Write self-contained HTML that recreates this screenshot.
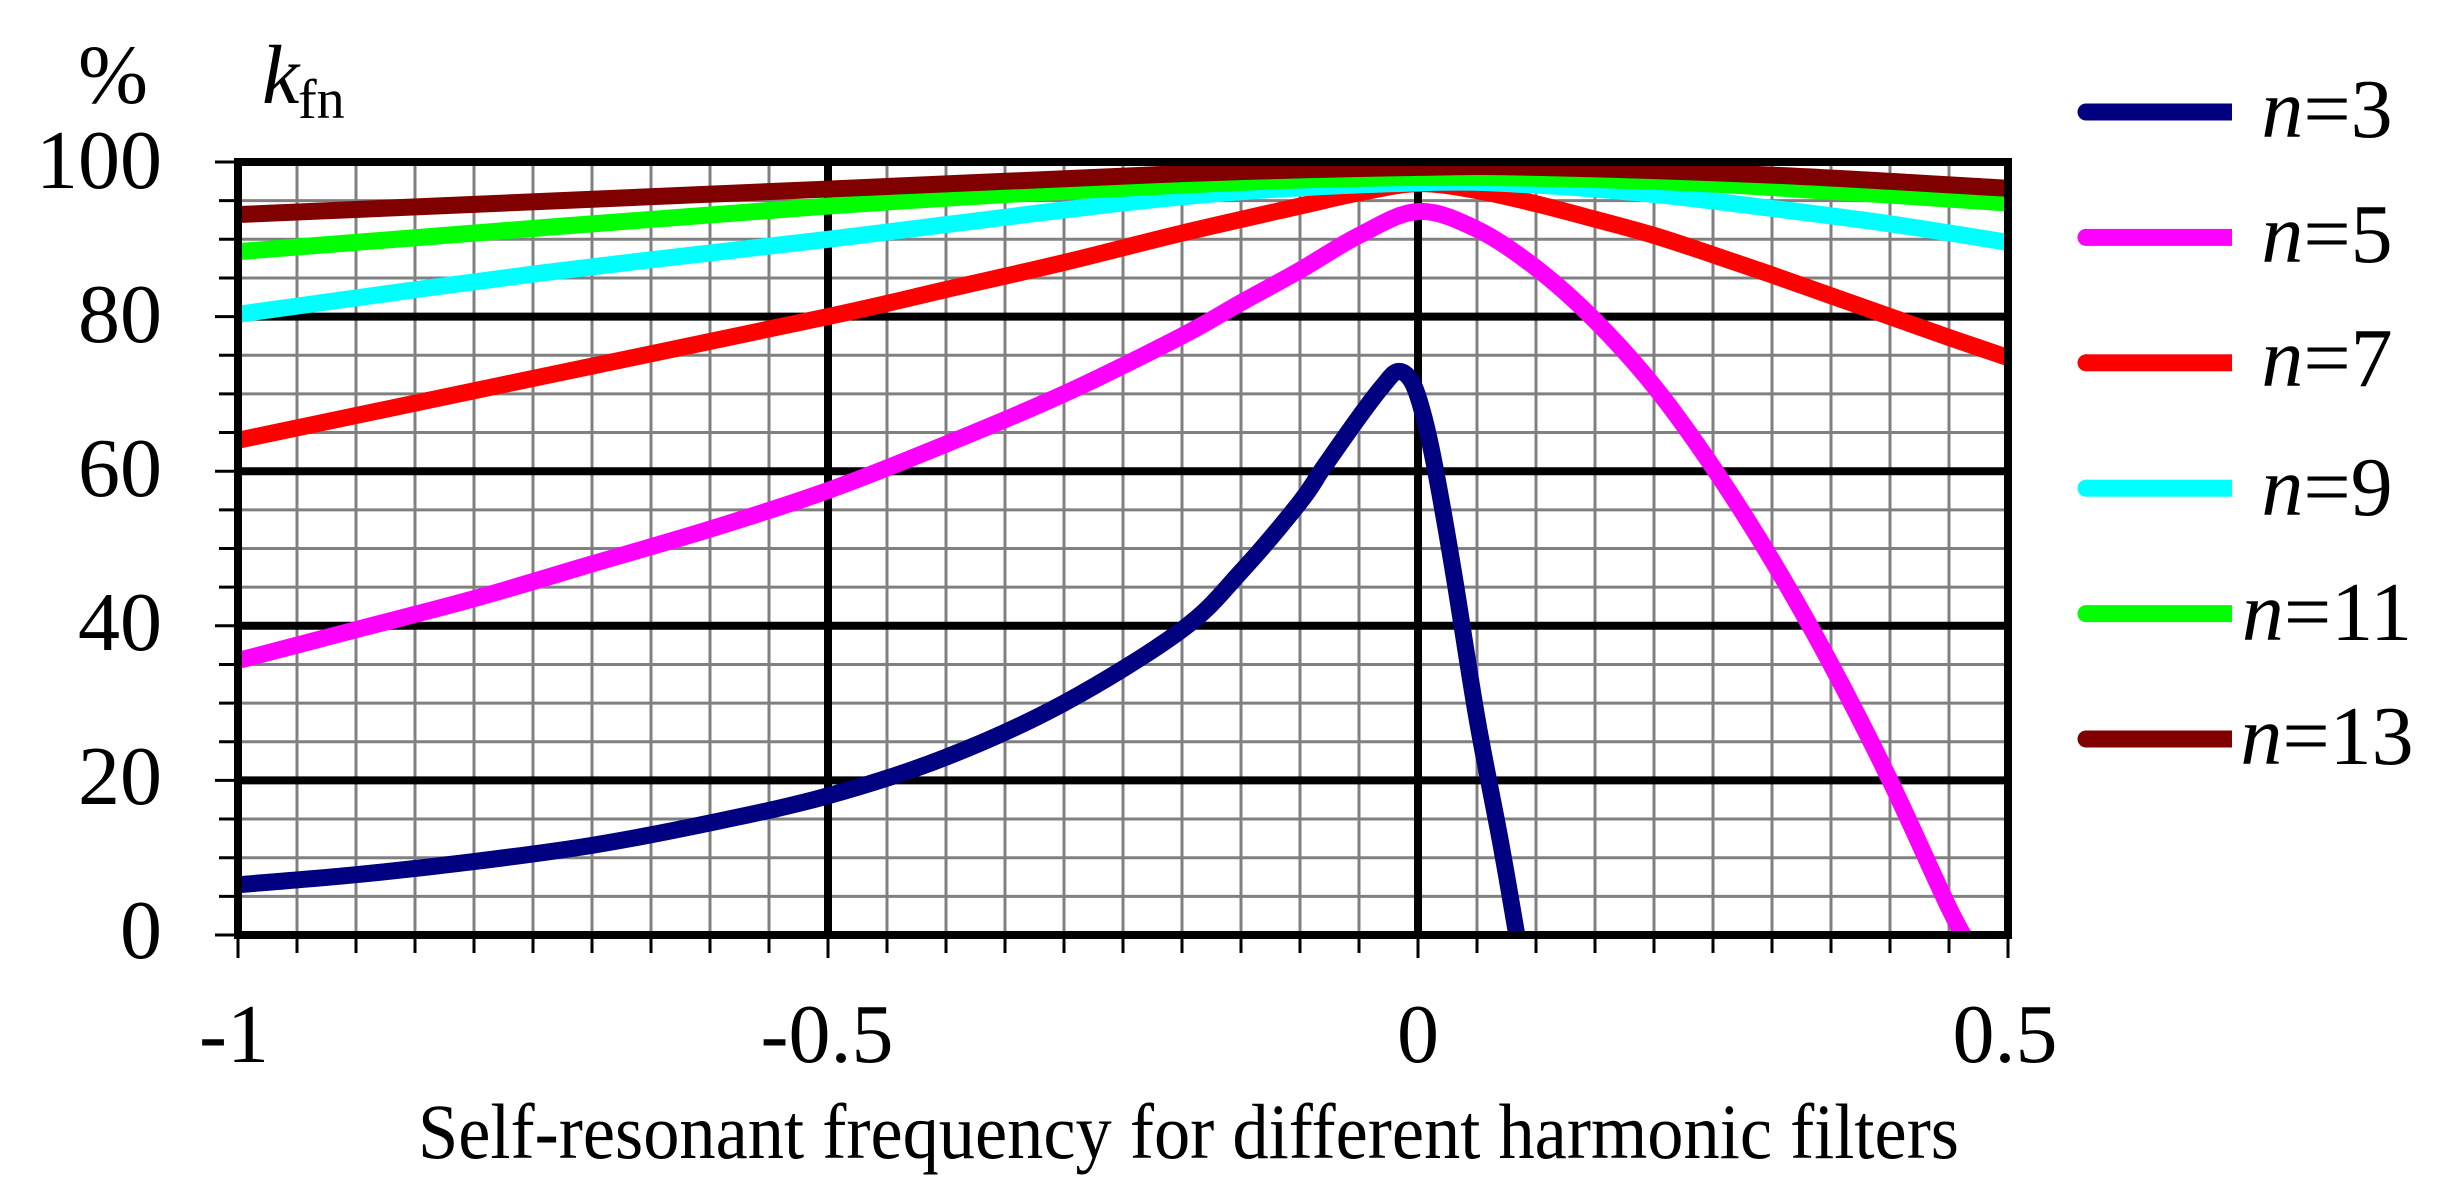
<!DOCTYPE html>
<html><head><meta charset="utf-8"><style>
html,body{margin:0;padding:0;background:#fff;}
svg{display:block;}
text{font-family:"Liberation Serif",serif;fill:#000;}
</style></head><body>
<svg id="s" width="2447" height="1204" viewBox="0 0 2447 1204" xmlns="http://www.w3.org/2000/svg">
<defs><clipPath id="c"><rect x="238" y="160" width="1770" height="776"/></clipPath></defs>
<g id="grid"></g>
<g id="curves" clip-path="url(#c)" fill="none" stroke-width="17" stroke-linejoin="round" stroke-linecap="butt"></g>
<rect x="238" y="162" width="1770" height="773" fill="none" stroke="#000" stroke-width="8"/>
<g font-size="84" text-anchor="end">
<text x="162" y="188">100</text>
<text x="162" y="342">80</text>
<text x="162" y="496">60</text>
<text x="162" y="650">40</text>
<text x="162" y="804">20</text>
<text x="162" y="958">0</text>
</g>
<g font-size="84" text-anchor="middle">
<text x="234" y="1062">-1</text>
<text x="827" y="1062">-0.5</text>
<text x="1418" y="1062">0</text>
<text x="2005" y="1062">0.5</text>
</g>
<text x="78" y="103" font-size="84">%</text>
<text x="262" y="103" font-size="84" font-style="italic">k</text>
<text x="298" y="118" font-size="56">fn</text>
<text x="418" y="1158" font-size="78" textLength="1541" lengthAdjust="spacingAndGlyphs">Self-resonant frequency for different harmonic filters</text>
<g id="legend"></g>
<g font-size="84" text-anchor="middle">
<text x="2327" y="137"><tspan font-style="italic">n</tspan>=3</text>
<text x="2327" y="262"><tspan font-style="italic">n</tspan>=5</text>
<text x="2327" y="386"><tspan font-style="italic">n</tspan>=7</text>
<text x="2327" y="515"><tspan font-style="italic">n</tspan>=9</text>
<text x="2327" y="640"><tspan font-style="italic">n</tspan>=11</text>
<text x="2327" y="764"><tspan font-style="italic">n</tspan>=13</text>
</g>
</svg>
<script>
var NS="http://www.w3.org/2000/svg";
function X(v){return 238+(v+1)*1180;}
function Y(v){return 935-v*7.73;}
function el(p,t,a){var e=document.createElementNS(NS,t);for(var k in a)e.setAttribute(k,a[k]);p.appendChild(e);return e;}
var g=document.getElementById('grid');
for(var i=1;i<30;i++){var v=-1+i*0.05;if(i==10||i==20)continue;el(g,'line',{x1:X(v),x2:X(v),y1:162,y2:935,stroke:'#808080','stroke-width':3});}
for(var j=1;j<20;j++){if(j%4==0)continue;var y=Y(j*5);el(g,'line',{x1:238,x2:2008,y1:y,y2:y,stroke:'#808080','stroke-width':3});}
[10,20].forEach(function(i){var x=X(-1+i*0.05);el(g,'line',{x1:x,x2:x,y1:162,y2:935,stroke:'#000','stroke-width':8});});
[20,40,60,80].forEach(function(v){el(g,'line',{x1:238,x2:2008,y1:Y(v),y2:Y(v),stroke:'#000','stroke-width':8});});
for(var i=0;i<=30;i++){var x=X(-1+i*0.05);el(g,'line',{x1:x,x2:x,y1:935,y2:(i%10==0)?958:953,stroke:'#000','stroke-width':3});}
for(var j=0;j<=20;j++){var y=Y(j*5);el(g,'line',{x1:(j%4==0)?215:219,x2:238,y1:y,y2:y,stroke:'#000','stroke-width':3});}
var D=[
['#000080',[[-1,6.5],[-0.9,7.8],[-0.8,9.5],[-0.7,11.6],[-0.6,14.5],[-0.5,18],[-0.4,23],[-0.3,30],[-0.2,39.5],[-0.15,47],[-0.1,56],[-0.08,60.5],[-0.05,67],[-0.03,71],[-0.017,72.9],[-0.005,71.5],[0.005,67],[0.015,60],[0.03,47],[0.05,28],[0.07,12],[0.086,-2]]],
['#ff00ff',[[-1,35.5],[-0.9,39.5],[-0.8,43.5],[-0.7,48],[-0.6,52.5],[-0.5,57.5],[-0.4,63.5],[-0.3,70],[-0.2,77.5],[-0.15,81.8],[-0.1,86],[-0.05,90.5],[0,93.6],[0.05,91.3],[0.1,86.3],[0.15,79.5],[0.2,71],[0.25,60.5],[0.3,48.5],[0.35,35],[0.4,20],[0.45,3.5],[0.47,-2]]],
['#ff0000',[[-1,64],[-0.75,72],[-0.5,80],[-0.4,83.5],[-0.3,87],[-0.2,90.8],[-0.1,94.3],[-0.05,96],[0,97.2],[0.05,96.3],[0.1,94.6],[0.15,92.6],[0.2,90.5],[0.25,88],[0.3,85.4],[0.35,82.7],[0.4,80],[0.45,77.3],[0.5,74.7]]],
['#00ffff',[[-1,80.3],[-0.75,85.5],[-0.5,90],[-0.2,95.5],[0,97.3],[0.1,97],[0.2,95.8],[0.3,94],[0.4,92],[0.5,89.6]]],
['#00ff00',[[-1,88.4],[-0.5,94.3],[-0.2,97],[0,98],[0.2,97.5],[0.35,96.2],[0.5,94.7]]],
['#800000',[[-1,93.2],[-0.5,96.5],[-0.2,98.5],[0,99.3],[0.1,99.3],[0.3,98.3],[0.5,96.6]]]
];
var cg=document.getElementById('curves');
D.forEach(function(s){var p=s[1].map(function(q){return [X(q[0]),Y(q[1])];});
var d='M'+p[0][0]+','+p[0][1];
for(var i=0;i<p.length-1;i++){var p0=p[Math.max(0,i-1)],p1=p[i],p2=p[i+1],p3=p[Math.min(p.length-1,i+2)];
d+=' C'+(p1[0]+(p2[0]-p0[0])/6)+','+(p1[1]+(p2[1]-p0[1])/6)+' '+(p2[0]-(p3[0]-p1[0])/6)+','+(p2[1]-(p3[1]-p1[1])/6)+' '+p2[0]+','+p2[1];}
el(cg,'path',{d:d,stroke:s[0]});});
var lg=document.getElementById('legend');
D.forEach(function(s,i){var y=112+i*125.4;
el(lg,'circle',{cx:2086,cy:y,r:8.5,fill:s[0]});
el(lg,'rect',{x:2086,y:y-8.5,width:146,height:17,fill:s[0]});});
</script>
</body></html>
